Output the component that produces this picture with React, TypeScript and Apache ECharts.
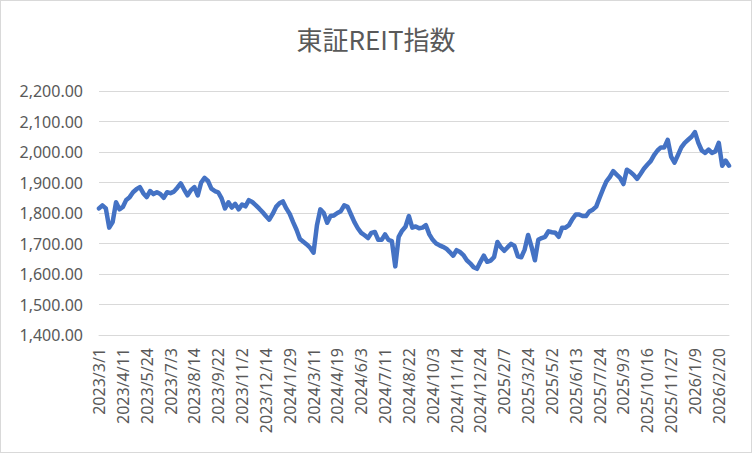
import * as React from "react";
import * as echarts from "echarts";

// tick labels, one every 28 trading days (7 samples)
const tickDates = [
  "2023/3/1", "2023/4/11", "2023/5/24", "2023/7/3", "2023/8/14", "2023/9/22",
  "2023/11/2", "2023/12/14", "2024/1/29", "2024/3/11", "2024/4/19", "2024/6/3",
  "2024/7/11", "2024/8/22", "2024/10/3", "2024/11/14", "2024/12/24", "2025/2/7",
  "2025/3/24", "2025/5/2", "2025/6/13", "2025/7/24", "2025/9/3", "2025/10/16",
  "2025/11/27", "2026/1/9", "2026/2/20",
];
const samplesPerTick = 7;

// index closes, about every 4th trading day
const vals2023 = [
  1815, 1825, 1815, 1752, 1770, 1835, 1812, 1820, 1843, 1852,
  1868, 1878, 1885, 1865, 1852, 1872, 1862, 1868, 1862, 1850,
  1868, 1865, 1870, 1883, 1897, 1877, 1858, 1875, 1885, 1858,
  1900, 1915, 1905, 1880, 1872, 1868, 1848, 1815, 1835, 1818,
  1830, 1812, 1828, 1822, 1842, 1836, 1826, 1815, 1803, 1790,
  1778, 1797,
];
const vals2024 = [
  1820, 1832, 1838, 1815, 1797, 1770, 1745, 1715, 1706, 1697,
  1686, 1670, 1760, 1812, 1800, 1768, 1790, 1792, 1800, 1806,
  1825, 1820, 1795, 1770, 1750, 1735, 1727, 1718, 1735, 1738,
  1712, 1712, 1730, 1712, 1708, 1625, 1722, 1742, 1755, 1790,
  1752, 1756, 1750, 1752, 1760, 1730, 1712, 1700, 1694, 1689,
  1683, 1672, 1660, 1678, 1672, 1662, 1645, 1635, 1622, 1617,
  1640, 1660,
];
const vals2025 = [
  1640, 1644, 1655, 1705, 1688, 1676, 1688, 1699, 1692, 1658,
  1655, 1680, 1728, 1690, 1645, 1712, 1718, 1722, 1740, 1737,
  1735, 1722, 1752, 1752, 1760, 1780, 1795, 1795, 1790, 1790,
  1805, 1811, 1821, 1850, 1878, 1904, 1918, 1937, 1926, 1915,
  1895, 1942, 1935, 1925, 1912, 1928, 1945, 1958, 1970, 1990,
  2005, 2015, 2015, 2040, 1985, 1965, 1990, 2015, 2030, 2040,
  2050,
];
const vals2026 = [2065, 2030, 2005, 1997, 2008, 1997, 2002, 2030, 1955, 1972, 1955];

const yTicks = { min: 1400, max: 2200, step: 100 };

const textColor = "#595959";
const font = "'Noto Sans', 'Noto Sans CJK JP', sans-serif";

export default function App() {
  const elRef = React.useRef<HTMLDivElement | null>(null);

  React.useEffect(() => {
    if (!elRef.current) return;
    const chart = echarts.init(elRef.current, undefined, { renderer: "svg" });

    const values = [...vals2023, ...vals2024, ...vals2025, ...vals2026];
    const cats = values.map((_, i) =>
      i % samplesPerTick === 0 && tickDates[i / samplesPerTick] ? tickDates[i / samplesPerTick] : ""
    );
    const nf = new Intl.NumberFormat("en-US", { minimumFractionDigits: 2, maximumFractionDigits: 2 });

    chart.setOption({
      animation: false,
      textStyle: { fontFamily: font },
      title: {
        text: "東証REIT指数",
        left: "center",
        top: 24,
        padding: 0,
        textStyle: { fontSize: 26, fontWeight: "normal", color: textColor, fontFamily: "'Noto Sans CJK JP', sans-serif" },
      },
      grid: { left: 98, right: 22, top: 90, bottom: 117 },
      xAxis: {
        type: "category",
        data: cats,
        boundaryGap: false,
        axisLine: { lineStyle: { color: "#d9d9d9" } },
        axisTick: { show: false },
        axisLabel: {
          interval: samplesPerTick - 1,
          rotate: 90,
          margin: 13,
          fontSize: 16,
          color: textColor,
        },
      },
      yAxis: {
        type: "value",
        min: yTicks.min,
        max: yTicks.max,
        interval: yTicks.step,
        axisLine: { show: false },
        axisTick: { show: false },
        splitLine: { lineStyle: { color: "#d9d9d9", width: 1 } },
        axisLabel: {
          margin: 16,
          fontSize: 16,
          color: textColor,
          formatter: (v: number) => nf.format(v),
        },
      },
      series: [
        {
          type: "line",
          data: values,
          showSymbol: false,
          lineStyle: { color: "#4472C4", width: 4.5, join: "round", cap: "round" },
          itemStyle: { color: "#4472C4" },
        },
      ],
    });

    return () => chart.dispose();
  }, []);

  return (
    <div
      style={{
        position: "absolute",
        left: 0,
        top: 0,
        width: 752,
        height: 453,
        boxSizing: "border-box",
        border: "1px solid #d9d9d9",
        background: "#fff",
      }}
    >
      <div ref={elRef} style={{ width: "100%", height: "100%" }} />
    </div>
  );
}
